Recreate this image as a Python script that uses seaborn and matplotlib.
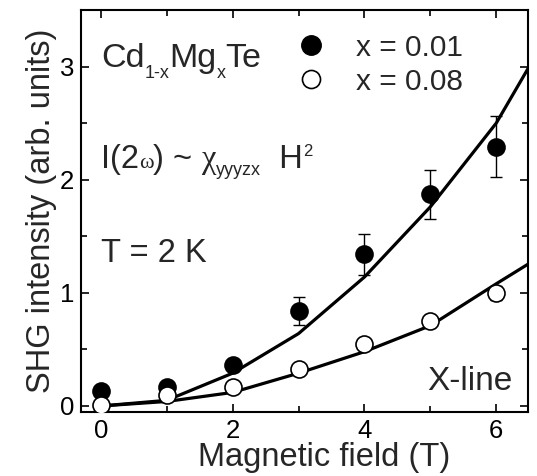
import matplotlib
matplotlib.use("Agg")
import matplotlib.pyplot as plt
import matplotlib.transforms as mtransforms
import seaborn as sns
import pandas as pd
from matplotlib.lines import Line2D

# data points
field = [0, 1, 2, 3, 4, 5, 6]
y_x001 = [0.13, 0.17, 0.36, 0.84, 1.34, 1.87, 2.29]
err_x001 = [0.04, 0.04, 0.05, 0.12, 0.18, 0.22, 0.27]
y_x008 = [0.01, 0.10, 0.17, 0.33, 0.55, 0.75, 1.00]
err_x008 = [0.04, 0.04, 0.04, 0.04, 0.04, 0.05, 0.06]

# fit curves
fit_field = [0, 1, 2, 3, 4, 5, 6, 6.5]
fit_x001 = [0.0, 0.05, 0.29, 0.64, 1.14, 1.76, 2.50, 3.0]
fit_x008 = [0.0, 0.04, 0.12, 0.29, 0.48, 0.71, 1.08, 1.26]

legend_labels = ["x = 0.01", "x = 0.08"]

sns.set_style("ticks")
plt.rcParams['font.family'] = ['Liberation Sans', 'DejaVu Sans']

fig = plt.figure(figsize=(5.37, 4.76), dpi=100)
ax = fig.add_axes([0.151, 0.134, 0.832, 0.845])

fit_df = pd.DataFrame({"H": fit_field * 2,
                       "I": fit_x001 + fit_x008,
                       "s": ["a"] * len(fit_field) + ["b"] * len(fit_field)})
sns.lineplot(data=fit_df, x="H", y="I", units="s", estimator=None,
             color="black", lw=2.3, ax=ax, legend=False)

ax.errorbar(field, y_x001, yerr=err_x001, fmt="none", ecolor="black",
            elinewidth=1.0, capsize=4, capthick=1.0, zorder=3)
ax.errorbar(field, y_x008, yerr=err_x008, fmt="none", ecolor="black",
            elinewidth=1.0, capsize=4, capthick=1.0, zorder=3)
sns.scatterplot(x=field, y=y_x001, color="black", edgecolor="black",
                s=150, linewidth=1.2, ax=ax, zorder=4)
sns.scatterplot(x=field, y=y_x008, color="white", edgecolor="black",
                s=150, linewidth=1.2, ax=ax, zorder=4)

ax.set_xlim(-0.3, 6.48)
ax.set_ylim(-0.055, 3.5)
ax.set_xticks([0, 2, 4, 6])
ax.set_xticks([1, 3, 5], minor=True)
ax.set_yticks([0, 1, 2, 3])
ax.set_yticks([0.5, 1.5, 2.5, 3.5], minor=True)
ax.tick_params(which="both", direction="in", top=True, right=True,
               width=1.2, labelsize=18.5, colors="black")
ax.tick_params(which="major", length=6, pad=5)
ax.tick_params(which="minor", length=4)
for s in ax.spines.values():
    s.set_linewidth(1.5)
    s.set_color("black")

ax.set_xlabel("Magnetic field (T)", fontsize=23.5)
ax.xaxis.set_label_coords((324.5 - 81) / 447, -0.074)
ax.xaxis.label.set_va("top")
ax.set_ylabel("SHG intensity (arb. units)", fontsize=23.5, labelpad=2)

fig.canvas.draw()
renderer = fig.canvas.get_renderer()


def rich_text(x, y, pieces):
    """pieces: (text, fontsize, dy_pixels, family)"""
    dx = 0.0
    for txt, size, dy, fam in pieces:
        tr = mtransforms.offset_copy(ax.transData, fig=fig, x=dx, y=dy, units="dots")
        t = ax.text(x, y, txt, fontsize=size, transform=tr, family=fam,
                    ha="left", va="baseline")
        bb = t.get_window_extent(renderer)
        dx += bb.width


SANS = ['Liberation Sans', 'DejaVu Sans']
SERIF = ['Liberation Serif', 'DejaVu Serif']
rich_text(0.0, 3.0, [("Cd", 24.5, 0, SANS), ("1-x", 13, -11, SANS),
                     ("Mg", 24.5, 0, SANS), ("x", 13, -11, SANS),
                     ("Te", 24.5, 0, SANS)])
rich_text(0.0, 2.1, [("I(2", 23.5, 0, SANS), ("\u03c9", 16, 0, SERIF),
                     (") ~ ", 23.5, 0, SANS), ("\u03c7", 23.5, 0, SERIF),
                     ("yyyzx", 13, -7, SANS), ("  H", 23.5, 0, SANS),
                     ("2", 12, 12, SANS)])
ax.text(0.0, 1.27, "T = 2 K", fontsize=23.5)
ax.text(6.25, 0.14, "X-line", fontsize=24, ha="right")

handles = [Line2D([], [], ls="none", marker="o", ms=14, mfc="black", mec="black"),
           Line2D([], [], ls="none", marker="o", ms=13, mfc="white", mec="black", mew=1.2)]
ax.legend(handles, legend_labels, loc="upper left",
          bbox_to_anchor=(0.425, 0.985), frameon=False, fontsize=21.5,
          handletextpad=0.75, labelspacing=0.2, borderaxespad=0.2,
          handlelength=1.5)

fig.savefig("out.png", dpi=100)
